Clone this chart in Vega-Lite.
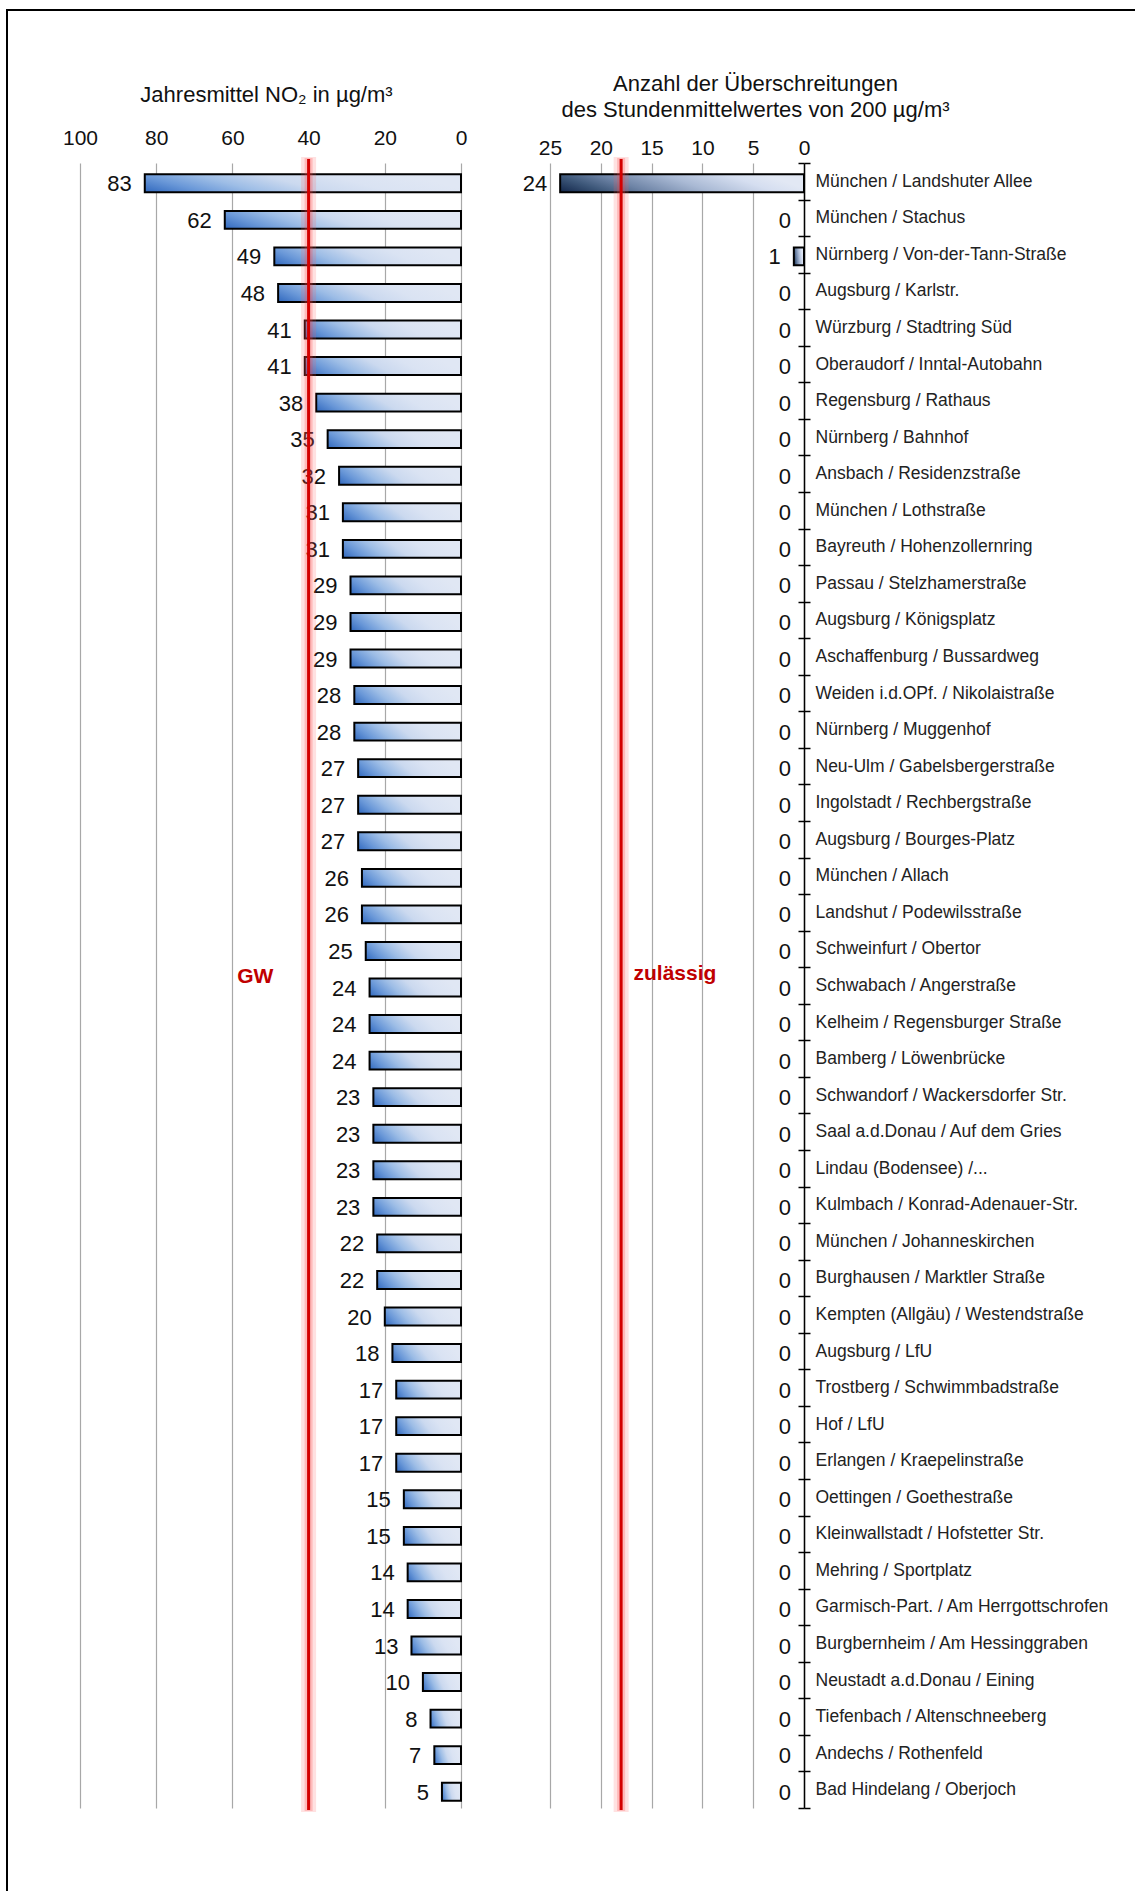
{
  "$schema": "https://vega.github.io/schema/vega-lite/v6.json",
  "width": 1148,
  "height": 1901,
  "autosize": {"type": "none"},
  "padding": {"left": 7, "top": 10, "right": -20, "bottom": -20},
  "background": "white",
  "config": {
    "view": {"stroke": "#000000", "strokeWidth": 2},
    "font": "Liberation Sans",
    "axis": {
      "labelFont": "Liberation Sans",
      "titleFont": "Liberation Sans",
      "labelColor": "#111111",
      "titleColor": "#111111",
      "titleFontWeight": "normal"
    }
  },
  "datasets": {
    "stations": [
      {"station": "München / Landshuter Allee", "no2": 83, "exceed": 24},
      {"station": "München / Stachus", "no2": 62, "exceed": 0},
      {"station": "Nürnberg / Von-der-Tann-Straße", "no2": 49, "exceed": 1},
      {"station": "Augsburg / Karlstr.", "no2": 48, "exceed": 0},
      {"station": "Würzburg / Stadtring Süd", "no2": 41, "exceed": 0},
      {"station": "Oberaudorf / Inntal-Autobahn", "no2": 41, "exceed": 0},
      {"station": "Regensburg / Rathaus", "no2": 38, "exceed": 0},
      {"station": "Nürnberg / Bahnhof", "no2": 35, "exceed": 0},
      {"station": "Ansbach / Residenzstraße", "no2": 32, "exceed": 0},
      {"station": "München / Lothstraße", "no2": 31, "exceed": 0},
      {"station": "Bayreuth / Hohenzollernring", "no2": 31, "exceed": 0},
      {"station": "Passau / Stelzhamerstraße", "no2": 29, "exceed": 0},
      {"station": "Augsburg / Königsplatz", "no2": 29, "exceed": 0},
      {"station": "Aschaffenburg / Bussardweg", "no2": 29, "exceed": 0},
      {"station": "Weiden i.d.OPf. / Nikolaistraße", "no2": 28, "exceed": 0},
      {"station": "Nürnberg / Muggenhof", "no2": 28, "exceed": 0},
      {"station": "Neu-Ulm / Gabelsbergerstraße", "no2": 27, "exceed": 0},
      {"station": "Ingolstadt / Rechbergstraße", "no2": 27, "exceed": 0},
      {"station": "Augsburg / Bourges-Platz", "no2": 27, "exceed": 0},
      {"station": "München / Allach", "no2": 26, "exceed": 0},
      {"station": "Landshut / Podewilsstraße", "no2": 26, "exceed": 0},
      {"station": "Schweinfurt / Obertor", "no2": 25, "exceed": 0},
      {"station": "Schwabach / Angerstraße", "no2": 24, "exceed": 0},
      {"station": "Kelheim / Regensburger Straße", "no2": 24, "exceed": 0},
      {"station": "Bamberg / Löwenbrücke", "no2": 24, "exceed": 0},
      {"station": "Schwandorf / Wackersdorfer Str.", "no2": 23, "exceed": 0},
      {"station": "Saal a.d.Donau / Auf dem Gries", "no2": 23, "exceed": 0},
      {"station": "Lindau (Bodensee) /...", "no2": 23, "exceed": 0},
      {"station": "Kulmbach / Konrad-Adenauer-Str.", "no2": 23, "exceed": 0},
      {"station": "München / Johanneskirchen", "no2": 22, "exceed": 0},
      {"station": "Burghausen / Marktler Straße", "no2": 22, "exceed": 0},
      {"station": "Kempten (Allgäu) / Westendstraße", "no2": 20, "exceed": 0},
      {"station": "Augsburg / LfU", "no2": 18, "exceed": 0},
      {"station": "Trostberg / Schwimmbadstraße", "no2": 17, "exceed": 0},
      {"station": "Hof / LfU", "no2": 17, "exceed": 0},
      {"station": "Erlangen / Kraepelinstraße", "no2": 17, "exceed": 0},
      {"station": "Oettingen / Goethestraße", "no2": 15, "exceed": 0},
      {"station": "Kleinwallstadt / Hofstetter Str.", "no2": 15, "exceed": 0},
      {"station": "Mehring / Sportplatz", "no2": 14, "exceed": 0},
      {"station": "Garmisch-Part. / Am Herrgottschrofen", "no2": 14, "exceed": 0},
      {"station": "Burgbernheim / Am Hessinggraben", "no2": 13, "exceed": 0},
      {"station": "Neustadt a.d.Donau / Eining", "no2": 10, "exceed": 0},
      {"station": "Tiefenbach / Altenschneeberg", "no2": 8, "exceed": 0},
      {"station": "Andechs / Rothenfeld", "no2": 7, "exceed": 0},
      {"station": "Bad Hindelang / Oberjoch", "no2": 5, "exceed": 0}
    ]
  },
  "data": {"name": "stations"},
  "layer": [
    {
      "layer": [
        {
          "mark": {
            "type": "bar",
            "height": {"band": 0.49},
            "yOffset": 2,
            "stroke": "#000000",
            "strokeWidth": 2,
            "fill": {
              "gradient": "linear",
              "x1": 0, "y1": 1, "x2": 1, "y2": 0.79,
              "stops": [
                {"offset": 0, "color": "#3068be"},
                {"offset": 0.18, "color": "#6a98d8"},
                {"offset": 0.35, "color": "#9dbde6"},
                {"offset": 0.55, "color": "#cbd9ef"},
                {"offset": 0.75, "color": "#dae3f3"},
                {"offset": 1, "color": "#e0e7f4"}
              ]
            }
          },
          "encoding": {
            "y": {
              "field": "station", "type": "nominal", "sort": null,
              "scale": {"range": [153, 1798], "paddingInner": 0, "paddingOuter": 0},
              "axis": {
                "orient": "left", "offset": -797, "title": null,
                "labels": false, "domain": false, "grid": false,
                "ticks": true, "tickBand": "extent", "tickSize": 6,
                "tickColor": "#000000", "tickWidth": 1.5
              }
            },
            "x": {
              "field": "no2", "type": "quantitative",
              "scale": {"domain": [0, 100], "range": [454, 73], "padding": 0, "nice": false},
              "axis": {
                "orient": "top", "offset": -153, "values": [0, 20, 40, 60, 80, 100],
                "domain": false, "ticks": false, "tickSize": 0,
                "labelPadding": 19, "labelBaseline": "alphabetic", "labelFontSize": 21,
                "labelFlush": false, "labelOverlap": false,
                "grid": true, "gridColor": "#a8a8a8", "gridWidth": 1.2,
                "title": "Jahresmittel NO₂ in µg/m³", "titleFontSize": 22,
                "titleX": 259, "titleY": -62, "titleAlign": "center",
                "titleBaseline": "alphabetic", "titleAngle": 0
              }
            }
          }
        },
        {
          "mark": {"type": "text", "align": "right", "baseline": "middle", "dx": -13, "dy": 3, "fontSize": 22, "color": "#111111"},
          "encoding": {
            "y": {"field": "station", "type": "nominal", "sort": null},
            "x": {"field": "no2", "type": "quantitative"},
            "text": {"field": "no2", "type": "quantitative"}
          }
        },
        {
          "data": {"values": [{"grenzwert": 40}]},
          "mark": {"type": "rule", "color": "#ff5a5a", "opacity": 0.18, "strokeWidth": 15, "yOffset": -6, "y2Offset": 4},
          "encoding": {
            "x": {"field": "grenzwert", "type": "quantitative"},
            "y": {"datum": "München / Landshuter Allee", "bandPosition": 0},
            "y2": {"datum": "Bad Hindelang / Oberjoch", "bandPosition": 1}
          }
        },
        {
          "data": {"values": [{"grenzwert": 40}]},
          "mark": {"type": "rule", "color": "#ff4040", "opacity": 0.24, "strokeWidth": 8, "yOffset": -5, "y2Offset": 3},
          "encoding": {
            "x": {"field": "grenzwert", "type": "quantitative"},
            "y": {"datum": "München / Landshuter Allee", "bandPosition": 0},
            "y2": {"datum": "Bad Hindelang / Oberjoch", "bandPosition": 1}
          }
        },
        {
          "data": {"values": [{"grenzwert": 40}]},
          "mark": {"type": "rule", "color": "#d40000", "strokeWidth": 3, "yOffset": -4, "y2Offset": 2},
          "encoding": {
            "x": {"field": "grenzwert", "type": "quantitative"},
            "y": {"datum": "München / Landshuter Allee", "bandPosition": 0},
            "y2": {"datum": "Bad Hindelang / Oberjoch", "bandPosition": 1}
          }
        },
        {
          "data": {"values": [{"position": 54, "label": "GW"}]},
          "mark": {"type": "text", "align": "center", "baseline": "middle", "dy": -9, "fontSize": 21, "fontWeight": "bold", "color": "#c00000"},
          "encoding": {
            "x": {"field": "position", "type": "quantitative"},
            "y": {"datum": "Schwabach / Angerstraße"},
            "text": {"field": "label"}
          }
        }
      ]
    },
    {
      "layer": [
        {
          "transform": [{"filter": "datum.exceed > 0"}],
          "mark": {
            "type": "bar",
            "height": {"band": 0.49},
            "yOffset": 2,
            "stroke": "#000000",
            "strokeWidth": 2,
            "fill": {
              "gradient": "linear",
              "x1": 0, "y1": 1, "x2": 1, "y2": 0.79,
              "stops": [
                {"offset": 0, "color": "#12264a"},
                {"offset": 0.18, "color": "#3d5779"},
                {"offset": 0.35, "color": "#6e84a6"},
                {"offset": 0.6, "color": "#a9b9d4"},
                {"offset": 0.85, "color": "#d5def0"},
                {"offset": 1, "color": "#e2e8f4"}
              ]
            }
          },
          "encoding": {
            "y": {
              "field": "station", "type": "nominal", "sort": null,
              "axis": {
                "orient": "right", "offset": -351, "title": null,
                "domain": true, "domainColor": "#000000", "domainWidth": 1.5,
                "ticks": true, "tickBand": "extent", "tickSize": 6,
                "tickColor": "#000000", "tickWidth": 1.5,
                "labelPadding": 5, "labelFontSize": 17.5, "labelColor": "#222222",
                "labelLimit": 400, "grid": false
              }
            },
            "x": {
              "field": "exceed", "type": "quantitative",
              "scale": {"domain": [0, 25], "range": [797, 543], "padding": 0, "nice": false},
              "axis": {
                "orient": "top", "offset": -153, "values": [0, 5, 10, 15, 20, 25],
                "domain": false, "ticks": false, "tickSize": 0,
                "labelPadding": 9, "labelBaseline": "alphabetic", "labelFontSize": 21,
                "labelFlush": false, "labelOverlap": false,
                "grid": true, "gridColor": "#a8a8a8", "gridWidth": 1.2,
                "title": ["Anzahl  der Überschreitungen", "des Stundenmittelwertes von 200 µg/m³"],
                "titleFontSize": 22, "titleLineHeight": 26,
                "titleX": 748, "titleY": -73, "titleAlign": "center",
                "titleBaseline": "alphabetic", "titleAngle": 0
              }
            }
          }
        },
        {
          "mark": {"type": "text", "align": "right", "baseline": "middle", "dx": -13, "dy": 3, "fontSize": 22, "color": "#111111"},
          "encoding": {
            "y": {"field": "station", "type": "nominal", "sort": null},
            "x": {"field": "exceed", "type": "quantitative"},
            "text": {"field": "exceed", "type": "quantitative"}
          }
        },
        {
          "data": {"values": [{"zulaessig": 18}]},
          "mark": {"type": "rule", "color": "#ff5a5a", "opacity": 0.18, "strokeWidth": 15, "yOffset": -6, "y2Offset": 4},
          "encoding": {
            "x": {"field": "zulaessig", "type": "quantitative"},
            "y": {"datum": "München / Landshuter Allee", "bandPosition": 0},
            "y2": {"datum": "Bad Hindelang / Oberjoch", "bandPosition": 1}
          }
        },
        {
          "data": {"values": [{"zulaessig": 18}]},
          "mark": {"type": "rule", "color": "#ff4040", "opacity": 0.24, "strokeWidth": 8, "yOffset": -5, "y2Offset": 3},
          "encoding": {
            "x": {"field": "zulaessig", "type": "quantitative"},
            "y": {"datum": "München / Landshuter Allee", "bandPosition": 0},
            "y2": {"datum": "Bad Hindelang / Oberjoch", "bandPosition": 1}
          }
        },
        {
          "data": {"values": [{"zulaessig": 18}]},
          "mark": {"type": "rule", "color": "#d40000", "strokeWidth": 3, "yOffset": -4, "y2Offset": 2},
          "encoding": {
            "x": {"field": "zulaessig", "type": "quantitative"},
            "y": {"datum": "München / Landshuter Allee", "bandPosition": 0},
            "y2": {"datum": "Bad Hindelang / Oberjoch", "bandPosition": 1}
          }
        },
        {
          "data": {"values": [{"position": 12.7, "label": "zulässig"}]},
          "mark": {"type": "text", "align": "center", "baseline": "middle", "dy": -12, "fontSize": 21, "fontWeight": "bold", "color": "#c00000"},
          "encoding": {
            "x": {"field": "position", "type": "quantitative"},
            "y": {"datum": "Schwabach / Angerstraße"},
            "text": {"field": "label"}
          }
        }
      ]
    }
  ],
  "resolve": {
    "scale": {"x": "independent"},
    "axis": {"x": "independent", "y": "independent"}
  }
}
